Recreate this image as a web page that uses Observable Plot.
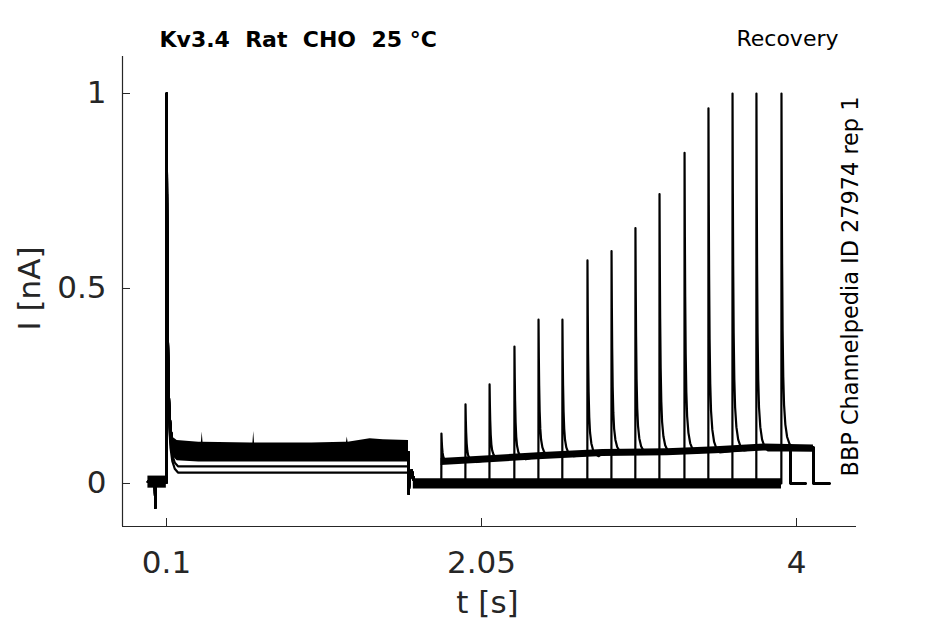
<!DOCTYPE html>
<html><head><meta charset="utf-8">
<script src="https://cdn.jsdelivr.net/npm/d3@7"></script>
<script src="https://cdn.jsdelivr.net/npm/@observablehq/plot@0.6"></script>
<style>
body{margin:0;background:#fff;}
#chart svg{font-family:"DejaVu Sans",sans-serif;}
#chart text{white-space:pre;}
</style></head><body><div id="chart"></div>
<script>
// ---- data ----
const sweep = [1,2,3,4,5,6,7,8,9,10,11,12,13,14,15];
const testTime = [1.802,1.951,2.100,2.254,2.403,2.551,2.706,2.855,3.003,3.152,3.307,3.455,3.604,3.752,3.907];
const testPeak = [0.128,0.203,0.254,0.351,0.420,0.420,0.572,0.596,0.655,0.742,0.848,0.962,1.0,1.0,1.0];
const condPeak = [1,1,1,1,1,1,1,1,1,1,1,1,1,1,1];
const condLevel = [0.044,0.028,0.08,0.08,0.08,0.08,0.08,0.08,0.08,0.08,0.08,0.08,0.08,0.08,0.08];
const testEnd = [3.963,3.963,3.963,3.963,3.963,3.963,3.963,4.105,4.105,4.105,4.105,4.105,4.105,4.105,4.105];
const traceEnd = [4.056,4.056,4.056,4.056,4.056,4.056,4.056,4.204,4.204,4.204,4.204,4.204,4.204,4.204,4.204];
const pulseOn = 0.1, pulseOff = 1.598;

// baseline before the conditioning pulse
const preT = [-0.015,0.015,0.028,0.031,0.033,0.036,0.06,0.099];
const preI = [0.004,0.002,-0.008,-0.062,-0.02,0.0,0.003,0.002];
// decay shape after each peak (fraction of peak above steady level)
const decayDt = [0,0.002,0.004,0.007,0.011,0.016,0.024,0.035,0.05,0.07];
const decayFrac = [1,0.72,0.52,0.33,0.2,0.12,0.065,0.03,0.01,0];
// current in the gap after the conditioning pulse
const gapDt = [0.001,0.004,0.012,0.02,0.035,0.07];
const gapI = [-0.026,-0.005,0.02,0.034,0.006,0.0];
// steady level after the test pulses
const postT = [1.80,2.10,2.40,2.80,3.20,3.50,3.80,4.105];
const postLevel = [0.055,0.062,0.070,0.078,0.080,0.085,0.092,0.090];
// noise envelope of the steady current during the conditioning pulse
const condBandT = [0.118,0.135,0.166,0.30,0.316,0.321,0.326,0.62,0.635,0.64,0.645,1.0,1.2,1.214,1.219,1.224,1.36,1.443,1.598];
const condBandTop = [0.17,0.12,0.110,0.106,0.106,0.132,0.106,0.104,0.104,0.133,0.104,0.104,0.106,0.106,0.119,0.106,0.115,0.112,0.110];
const condBandLow = [0.12,0.072,0.058,0.055,0.055,0.055,0.055,0.055,0.055,0.055,0.055,0.055,0.055,0.055,0.055,0.055,0.055,0.055,0.055];
const preNoise = [-0.012,0.019];
const gapNoise = [-0.014,0.012];
const postNoise = 0.009;

const xTicks = [0.1, 2.05, 4];
const yTicks = [0, 0.5, 1];
const xDomain = [-0.1724, 4.3714];
const yDomain = [-0.1103, 1.0949];
const title = "Kv3.4  Rat  CHO  25 °C";
const protocol = "Recovery";
const source = "BBP Channelpedia ID 27974 rep 1";
const xLabel = "t [s]";
const yLabel = "I [nA]";

// ---- build traces ----
const rows = [];
sweep.forEach((s, k) => {
  const push = (t, I) => rows.push({sweep: s, t, I});
  preT.forEach((t, j) => push(t, preI[j]));
  const L = condLevel[k];
  decayDt.forEach((d, j) => push(pulseOn + 0.001 + d, L + (condPeak[k] - L) * decayFrac[j]));
  push(pulseOff, L);
  gapDt.forEach((d, j) => push(pulseOff + d, gapI[j]));
  const T = testTime[k], P = testPeak[k];
  push(T - 0.0008, 0);
  let li = 0;
  postT.forEach((t, i) => { if (t <= T) li = i; });
  const lvl = postLevel[li];
  decayDt.forEach((d, j) => push(T + d, lvl + (P - lvl) * decayFrac[j]));
  let last = lvl;
  postT.forEach((t, i) => {
    if (t > T + 0.08 && t < testEnd[k]) { push(t, postLevel[i]); last = postLevel[i]; }
  });
  push(testEnd[k], last);
  push(testEnd[k] + 0.0008, 0);
  push(traceEnd[k], 0);
});

const condBand = condBandT.map((t, i) => ({t, lo: condBandLow[i], hi: condBandTop[i]}));
const preBand = [{t: preT[0], lo: preNoise[0], hi: preNoise[1]}, {t: preT[preT.length - 1], lo: preNoise[0], hi: preNoise[1]}];
const gapBand = [{t: pulseOff + 0.03, lo: gapNoise[0], hi: gapNoise[1]}, {t: testTime[testTime.length - 1], lo: gapNoise[0], hi: gapNoise[1]}];
const postBand = postT.map((t, i) => ({t, lo: postLevel[i] - postNoise, hi: postLevel[i] + postNoise}));

const W = 945, H = 624, mL = 122, mR = 89, mT = 56, mB = 98;
const frameW = W - mL - mR, frameH = H - mT - mB;
const ink = "#262626";

const chart = Plot.plot({
  width: W, height: H,
  marginLeft: mL, marginRight: mR, marginTop: mT, marginBottom: mB,
  x: {domain: xDomain, label: null},
  y: {domain: yDomain, label: null},
  style: {fontFamily: "DejaVu Sans", fontSize: "31px", background: "white", overflow: "visible"},
  marks: [
    Plot.areaY(preBand, {x: "t", y1: "lo", y2: "hi", fill: "black"}),
    Plot.areaY(condBand, {x: "t", y1: "lo", y2: "hi", fill: "black"}),
    Plot.areaY(gapBand, {x: "t", y1: "lo", y2: "hi", fill: "black"}),
    Plot.areaY(postBand, {x: "t", y1: "lo", y2: "hi", fill: "black"}),
    Plot.line(rows, {x: "t", y: "I", z: "sweep", stroke: "black", strokeWidth: 2.2}),
    Plot.ruleX([xDomain[0]], {stroke: ink, strokeWidth: 1.2}),
    Plot.ruleY([yDomain[0]], {stroke: ink, strokeWidth: 1.2}),
    Plot.tickY(yTicks, {y: d => d, stroke: ink, insetRight: frameW - 8}),
    Plot.tickX(xTicks, {x: d => d, stroke: ink, insetTop: frameH - 8}),
    Plot.axisY(yTicks, {tickSize: 0, tickPadding: 16, fontSize: 31, color: ink, tickFormat: d => String(d), label: null}),
    Plot.axisX(xTicks, {tickSize: 0, tickPadding: 24, fontSize: 31, color: ink, tickFormat: d => String(d), label: null}),
    Plot.text([yLabel], {text: d => d, frameAnchor: "left", dx: -92, dy: -3, rotate: -90, fontSize: 31, fill: ink, textAnchor: "middle", lineAnchor: "middle"}),
    Plot.text([xLabel], {text: d => d, frameAnchor: "bottom", dx: -2, dy: 77, fontSize: 31, fill: ink, textAnchor: "middle", lineAnchor: "middle"}),
    Plot.text([title], {text: d => d, frameAnchor: "top-left", dx: 37, dy: -9.5, fontSize: 22, fontWeight: "bold", fill: "black", textAnchor: "start", lineAnchor: "bottom"}),
    Plot.text([protocol], {text: d => d, frameAnchor: "top-right", dx: -18, dy: -11, fontSize: 22, fill: "black", textAnchor: "end", lineAnchor: "bottom"}),
    Plot.text([source], {text: d => d, frameAnchor: "right", dx: -6, dy: -5, rotate: -90, fontSize: 22.4, fill: "black", textAnchor: "middle", lineAnchor: "middle"})
  ]
});
document.getElementById("chart").appendChild(chart);
</script></body></html>
